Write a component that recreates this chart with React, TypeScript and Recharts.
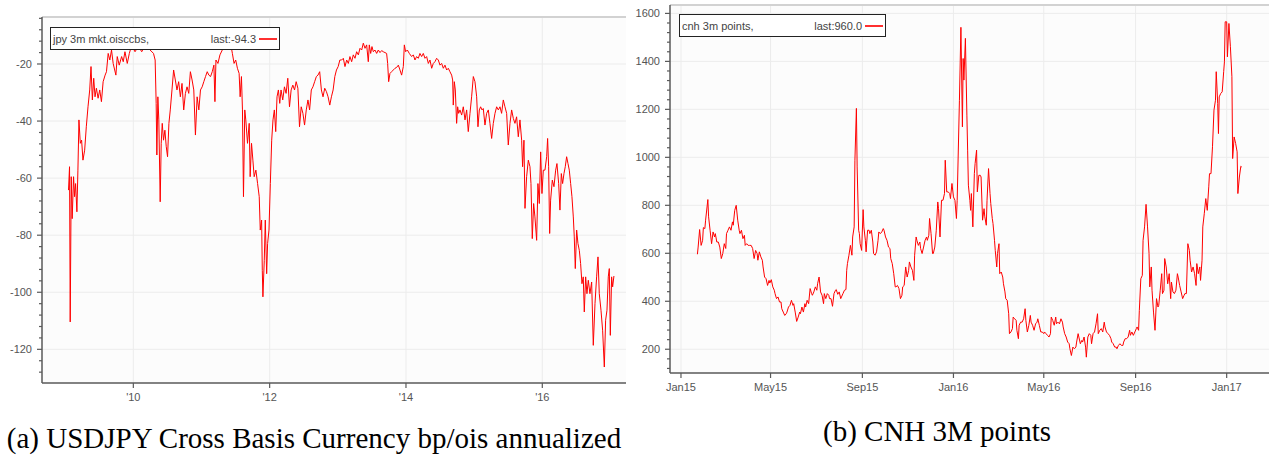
import React from 'react';
import { LineChart, Line, XAxis, YAxis, CartesianGrid, ReferenceLine } from 'recharts';

// ---------- (a) USDJPY cross basis, x = decimal year ----------
const jpyYears = [
  2009.049, 2009.064, 2009.074, 2009.089, 2009.103, 2009.123, 2009.138, 2009.153, 2009.172, 2009.187,
  2009.202, 2009.222, 2009.241, 2009.261, 2009.286, 2009.310, 2009.335, 2009.360, 2009.379, 2009.399,
  2009.419, 2009.438, 2009.458, 2009.483, 2009.507, 2009.532, 2009.557, 2009.586, 2009.606, 2009.631,
  2009.655, 2009.680, 2009.704, 2009.744, 2009.764, 2009.793, 2009.828, 2009.852, 2009.877, 2009.911,
  2009.941, 2009.975, 2010.025, 2010.074, 2010.123, 2010.172, 2010.246, 2010.296, 2010.320, 2010.335,
  2010.345, 2010.360, 2010.374, 2010.394, 2010.409, 2010.424, 2010.443, 2010.463, 2010.483, 2010.502,
  2010.522, 2010.542, 2010.567, 2010.591, 2010.616, 2010.640, 2010.665, 2010.690, 2010.714, 2010.739,
  2010.764, 2010.788, 2010.813, 2010.837, 2010.862, 2010.887, 2010.911, 2010.936, 2010.961, 2010.985,
  2011.010, 2011.034, 2011.059, 2011.084, 2011.108, 2011.133, 2011.158, 2011.182, 2011.197, 2011.212,
  2011.241, 2011.271, 2011.305, 2011.330, 2011.379, 2011.429, 2011.453, 2011.478, 2011.502, 2011.527,
  2011.552, 2011.567, 2011.586, 2011.601, 2011.616, 2011.635, 2011.650, 2011.675, 2011.700, 2011.714,
  2011.734, 2011.754, 2011.773, 2011.798, 2011.823, 2011.847, 2011.862, 2011.882, 2011.892, 2011.901,
  2011.921, 2011.936, 2011.956, 2011.970, 2011.990, 2012.010, 2012.030, 2012.049, 2012.069, 2012.089,
  2012.108, 2012.128, 2012.148, 2012.167, 2012.192, 2012.217, 2012.241, 2012.266, 2012.291, 2012.315,
  2012.340, 2012.365, 2012.389, 2012.414, 2012.438, 2012.463, 2012.488, 2012.512, 2012.537, 2012.562,
  2012.586, 2012.611, 2012.635, 2012.660, 2012.685, 2012.709, 2012.734, 2012.759, 2012.783, 2012.808,
  2012.833, 2012.857, 2012.882, 2012.906, 2012.931, 2012.956, 2012.980, 2013.005, 2013.030, 2013.056,
  2013.081, 2013.105, 2013.130, 2013.154, 2013.178, 2013.203, 2013.227, 2013.252, 2013.276, 2013.301,
  2013.325, 2013.350, 2013.374, 2013.399, 2013.423, 2013.447, 2013.462, 2013.482, 2013.501, 2013.521,
  2013.545, 2013.570, 2013.594, 2013.619, 2013.643, 2013.667, 2013.692, 2013.716, 2013.731, 2013.746,
  2013.765, 2013.790, 2013.814, 2013.839, 2013.863, 2013.888, 2013.912, 2013.936, 2013.961, 2013.976,
  2013.995, 2014.020, 2014.049, 2014.083, 2014.108, 2014.132, 2014.156, 2014.181, 2014.205, 2014.230,
  2014.254, 2014.279, 2014.303, 2014.328, 2014.352, 2014.377, 2014.401, 2014.425, 2014.450, 2014.474,
  2014.499, 2014.523, 2014.548, 2014.572, 2014.597, 2014.621, 2014.645, 2014.670, 2014.685, 2014.694,
  2014.709, 2014.724, 2014.743, 2014.758, 2014.773, 2014.792, 2014.817, 2014.841, 2014.866, 2014.890,
  2014.914, 2014.939, 2014.963, 2014.988, 2015.012, 2015.037, 2015.056, 2015.076, 2015.095, 2015.115,
  2015.134, 2015.159, 2015.183, 2015.208, 2015.232, 2015.257, 2015.281, 2015.306, 2015.330, 2015.355,
  2015.379, 2015.403, 2015.428, 2015.452, 2015.477, 2015.501, 2015.526, 2015.550, 2015.575, 2015.599,
  2015.623, 2015.648, 2015.672, 2015.697, 2015.711, 2015.731, 2015.746, 2015.770, 2015.795, 2015.819,
  2015.834, 2015.853, 2015.873, 2015.892, 2015.917, 2015.936, 2015.956, 2015.976, 2015.995, 2016.015,
  2016.039, 2016.064, 2016.078, 2016.093, 2016.108, 2016.122, 2016.147, 2016.171, 2016.196, 2016.215,
  2016.240, 2016.259, 2016.279, 2016.298, 2016.318, 2016.337, 2016.357, 2016.377, 2016.396, 2016.416,
  2016.435, 2016.455, 2016.469, 2016.484, 2016.504, 2016.523, 2016.543, 2016.562, 2016.582, 2016.601,
  2016.616, 2016.636, 2016.655, 2016.675, 2016.699, 2016.724, 2016.748, 2016.773, 2016.797, 2016.817,
  2016.836, 2016.861, 2016.885, 2016.910, 2016.929, 2016.949, 2016.968, 2016.983, 2016.998, 2017.017,
  2017.032, 2017.051,
];
const jpyValues = [
  -64.2, -56.0, -110.4, -59.5, -74.2, -59.5, -66.5, -61.9, -71.8, -57.2,
  -39.6, -47.8, -46.7, -53.7, -50.2, -42.0, -35.0, -29.1, -20.9, -32.6,
  -25.0, -31.5, -28.5, -32.0, -29.1, -33.2, -26.2, -23.9, -22.7, -16.3,
  -18.6, -15.1, -19.8, -23.9, -17.4, -20.4, -17.4, -19.2, -15.7, -19.8,
  -16.3, -13.5, -15.7, -13.8, -15.7, -13.5, -15.1, -16.3, -18.6, -33.8,
  -51.9, -31.5, -39.6, -68.3, -47.8, -40.8, -46.7, -43.2, -49.0, -52.5,
  -40.8, -36.1, -29.1, -22.1, -25.6, -29.1, -26.2, -31.5, -26.8, -36.1,
  -30.3, -28.0, -30.3, -22.7, -25.6, -29.1, -44.9, -31.5, -36.1, -29.1,
  -28.0, -26.2, -24.4, -22.7, -23.9, -24.4, -22.7, -20.4, -33.2, -18.6,
  -19.8, -16.8, -15.1, -14.2, -13.2, -13.0, -16.3, -19.8, -18.6, -21.5,
  -23.3, -31.5, -24.4, -36.1, -66.5, -36.1, -39.6, -47.8, -40.8, -59.5,
  -47.8, -53.7, -59.5, -57.2, -61.9, -66.5, -78.2, -74.7, -92.3, -101.6,
  -88.8, -74.7, -93.5, -82.9, -78.2, -61.9, -46.7, -39.6, -36.1, -43.7,
  -31.5, -29.1, -33.8, -29.1, -32.6, -28.0, -30.3, -25.0, -35.0, -29.1,
  -27.4, -29.1, -26.2, -28.5, -42.0, -35.0, -37.3, -41.4, -36.1, -32.6,
  -36.1, -29.1, -28.0, -26.2, -24.4, -23.9, -22.7, -29.1, -31.5, -28.5,
  -29.7, -31.5, -34.4, -31.5, -29.1, -24.4, -22.1, -20.9, -18.6, -18.6,
  -18.0, -20.9, -18.6, -19.8, -17.4, -19.2, -16.8, -18.0, -15.7, -16.8,
  -14.5, -15.1, -12.7, -14.5, -13.3, -19.2, -13.3, -16.3, -13.9, -15.7,
  -15.1, -16.3, -15.1, -16.0, -15.3, -15.7, -16.0, -16.3, -19.8, -26.2,
  -23.3, -22.7, -22.1, -21.5, -21.2, -20.4, -22.1, -23.9, -20.9, -13.3,
  -15.7, -15.1, -16.3, -17.4, -16.8, -18.6, -17.4, -18.0, -16.3, -17.4,
  -16.3, -18.0, -17.4, -19.8, -18.6, -21.5, -19.8, -19.2, -18.0, -18.6,
  -20.4, -19.8, -21.5, -20.4, -22.1, -21.5, -22.7, -23.9, -25.6, -34.4,
  -26.2, -29.1, -40.8, -35.0, -37.3, -36.1, -37.9, -35.0, -39.6, -36.1,
  -43.7, -37.3, -31.5, -24.4, -26.2, -31.5, -42.0, -36.1, -35.0, -36.1,
  -35.6, -41.4, -37.3, -36.1, -40.8, -46.1, -40.8, -37.3, -35.0, -36.1,
  -35.0, -37.3, -32.6, -35.0, -37.3, -48.4, -40.8, -36.1, -39.1, -40.8,
  -38.5, -45.5, -39.6, -46.7, -56.0, -46.7, -70.6, -59.5, -53.7, -56.0,
  -61.9, -81.2, -68.9, -73.6, -81.8, -61.9, -68.9, -50.8, -65.4, -57.2,
  -57.2, -52.5, -46.1, -56.0, -79.4, -67.7, -60.7, -63.0, -57.2, -54.9,
  -61.9, -71.2, -58.4, -61.9, -58.4, -56.0, -52.5, -54.9, -57.2, -61.9,
  -66.5, -73.6, -80.6, -91.7, -78.2, -82.9, -85.3, -89.9, -97.0, -94.6,
  -106.9, -94.6, -100.5, -95.8, -100.5, -96.4, -118.6, -104.0, -94.6, -87.6,
  -100.5, -106.3, -113.3, -126.2, -109.8, -106.3, -94.6, -91.7, -115.1, -94.6,
  -98.1, -94.3,
];
const jpyXTicks = [2010, 2012, 2014, 2016];
const jpyXTickLabels = ["'10", "'12", "'14", "'16"];
const jpyYMajor = [-120, -100, -80, -60, -40, -20];

// ---------- (b) CNH 3M points, x = days since 1 Jan 2015 ----------
const cnhDays = [
  22, 23, 25, 27, 29, 30, 32, 33, 36, 37, 39, 41, 43, 45, 46, 48, 50, 52, 54, 56,
  58, 60, 61, 63, 65, 67, 69, 70, 72, 74, 76, 78, 79, 81, 83, 85, 86, 88, 90, 92,
  94, 96, 98, 100, 102, 103, 105, 107, 109, 110, 112, 114, 116, 118, 119, 121, 123, 125, 126, 128,
  130, 132, 134, 135, 137, 139, 141, 142, 144, 146, 148, 150, 151, 153, 155, 157, 159, 160, 162, 164,
  166, 167, 169, 171, 173, 175, 176, 178, 180, 182, 183, 185, 187, 189, 191, 192, 194, 196, 198, 199,
  201, 203, 205, 207, 208, 210, 212, 214, 215, 217, 219, 221, 222, 223, 225, 227, 229, 230, 232, 233,
  235, 236, 238, 239, 240, 242, 244, 245, 247, 248, 250, 252, 253, 255, 257, 258, 260, 262, 264, 265,
  267, 269, 271, 272, 274, 276, 278, 280, 281, 283, 285, 287, 288, 290, 292, 294, 296, 297, 299, 301,
  303, 305, 306, 308, 310, 312, 313, 315, 316, 318, 320, 321, 323, 325, 327, 329, 330, 332, 333, 335,
  337, 338, 340, 342, 344, 345, 347, 349, 351, 353, 354, 356, 358, 360, 361, 363, 365, 367, 369, 370,
  373, 375, 377, 378, 379, 381, 383, 384, 385, 387, 388, 389, 391, 393, 394, 396, 397, 399, 401, 402,
  404, 406, 407, 409, 410, 412, 414, 415, 417, 418, 420, 421, 423, 424, 426, 427, 429, 431, 432, 434,
  435, 437, 439, 440, 442, 444, 445, 447, 449, 450, 452, 453, 455, 457, 459, 461, 462, 464, 466, 468,
  469, 471, 473, 475, 477, 478, 480, 482, 484, 486, 487, 489, 491, 493, 495, 496, 498, 500, 502, 503,
  505, 507, 509, 511, 512, 514, 516, 518, 520, 521, 523, 525, 527, 529, 530, 532, 533, 535, 537, 538,
  540, 542, 543, 545, 547, 549, 550, 552, 554, 556, 558, 559, 561, 563, 565, 567, 568, 570, 572, 574,
  576, 577, 579, 581, 583, 584, 586, 588, 590, 592, 593, 595, 597, 599, 601, 602, 604, 606, 608, 610,
  611, 613, 614, 616, 618, 619, 621, 623, 625, 627, 628, 630, 631, 633, 635, 637, 639, 640, 642, 644,
  645, 647, 648, 650, 652, 654, 656, 657, 659, 661, 663, 665, 666, 668, 670, 672, 674, 675, 677, 679,
  681, 682, 684, 686, 688, 690, 691, 693, 695, 696, 698, 699, 701, 703, 705, 707, 708, 710, 712, 714,
  716, 717, 719, 720, 721, 723, 725, 727, 728, 729, 731, 732, 734, 736, 738, 739, 741, 743, 745, 746,
  748, 750, 751,
];
const cnhValues = [
  596, 626, 699, 633, 654, 707, 703, 738, 824, 752, 696, 640, 689, 668, 682, 647, 647, 626, 578, 599,
  640, 620, 682, 696, 710, 696, 731, 717, 779, 800, 738, 696, 682, 696, 661, 675, 633, 640, 633, 633,
  633, 620, 578, 612, 599, 571, 606, 585, 571, 543, 501, 494, 466, 487, 476, 490, 460, 446, 432, 411,
  418, 397, 397, 369, 355, 341, 348, 355, 376, 383, 404, 383, 390, 355, 316, 334, 355, 348, 376, 355,
  390, 376, 404, 390, 453, 432, 425, 439, 460, 446, 473, 501, 439, 425, 390, 432, 411, 432, 425, 411,
  411, 379, 432, 446, 449, 429, 439, 411, 418, 432, 446, 449, 529, 557, 592, 633, 592, 668, 710, 988,
  1204, 960, 696, 682, 640, 612, 782, 710, 654, 606, 696, 696, 682, 696, 647, 599, 592, 606, 654, 689,
  682, 689, 703, 696, 668, 654, 626, 620, 578, 557, 515, 460, 460, 466, 453, 411, 425, 460, 466, 543,
  501, 529, 564, 543, 529, 487, 592, 668, 654, 633, 647, 620, 599, 626, 654, 668, 654, 675, 745, 682,
  599, 599, 626, 696, 814, 786, 668, 821, 821, 849, 988, 856, 856, 849, 828, 891, 835, 821, 745, 821,
  1238, 1542, 1127, 1412, 1322, 1496, 1176, 1030, 884, 821, 779, 849, 710, 932, 974, 1030, 856, 925, 925, 918,
  738, 786, 752, 717, 821, 953, 849, 807, 745, 724, 654, 612, 543, 599, 640, 515, 522, 501, 473, 439,
  411, 404, 348, 265, 272, 286, 334, 327, 320, 279, 244, 300, 313, 313, 327, 369, 320, 272, 300, 341,
  313, 300, 279, 306, 313, 327, 300, 272, 272, 265, 272, 265, 258, 251, 265, 334, 320, 300, 334, 306,
  313, 306, 327, 313, 293, 265, 251, 230, 223, 202, 174, 209, 202, 209, 230, 265, 251, 223, 237, 230,
  251, 209, 167, 251, 265, 258, 223, 265, 272, 306, 348, 265, 279, 286, 272, 313, 293, 272, 265, 258,
  244, 230, 223, 209, 209, 202, 216, 223, 216, 216, 230, 244, 244, 251, 279, 258, 272, 258, 272, 286,
  293, 279, 362, 494, 508, 654, 710, 804, 710, 599, 460, 543, 446, 355, 279, 411, 376, 383, 446, 515,
  432, 446, 578, 543, 473, 515, 411, 480, 439, 432, 446, 515, 501, 466, 439, 411, 425, 432, 432, 640,
  612, 571, 522, 543, 515, 466, 557, 515, 543, 487, 571, 710, 765, 828, 779, 877, 932, 932, 1044, 1197,
  1238, 1357, 1224, 1099, 1252, 1266, 1273, 1357, 1398, 1565, 1565, 1419, 1558, 1461, 1336, 995, 1085, 1058, 1023, 849,
  918, 963, 960,
];
const cnhXTicks = [0, 120, 243, 365, 486, 609, 731];
const cnhXTickLabels = ['Jan15', 'May15', 'Sep15', 'Jan16', 'May16', 'Sep16', 'Jan17'];
const cnhYMajor = [200, 400, 600, 800, 1000, 1200, 1400, 1600];

const jpyMinor: number[] = [];
for (let v = -128; v <= -4; v += 4) jpyMinor.push(v);
const cnhMinor: number[] = [];
for (let v = 120; v <= 1600; v += 40) cnhMinor.push(v);

const jpyData = jpyYears.map((x, i) => ({ x, v: jpyValues[i] }));
const cnhData = cnhDays.map((x, i) => ({ x, v: cnhValues[i] }));

const SANS = '"Liberation Sans", Arial, Helvetica, sans-serif';
const SERIF = '"Liberation Serif", "Times New Roman", Times, serif';
const AXIS = '#5a5a5a';
const TICKTXT = '#555';

const makeYTick = (majors: number[]) => (props: any) => {
  const { x, y, payload } = props;
  const major = majors.includes(payload.value);
  return (
    <g>
      <line x1={x - (major ? 5 : 3)} x2={x} y1={y} y2={y} stroke={AXIS} strokeWidth={1.2} />
      {major && (
        <text x={x - 10} y={y} dy="0.36em" textAnchor="end" fontSize={11} fill={TICKTXT} fontFamily={SANS}>
          {payload.value}
        </text>
      )}
    </g>
  );
};

const makeXTick = (vals: number[], labels: string[]) => (props: any) => {
  const { x, y, payload } = props;
  const i = vals.indexOf(payload.value);
  return (
    <g>
      <line x1={x} x2={x} y1={y} y2={y + 5} stroke={AXIS} strokeWidth={1.2} />
      <text x={x} y={y + 18} textAnchor="middle" fontSize={11} fill={TICKTXT} fontFamily={SANS}>
        {labels[i]}
      </text>
    </g>
  );
};

function LegendBox(p: { left: number; top: number; width: number; name: string; last: string }) {
  return (
    <div
      style={{
        position: 'absolute', left: p.left, top: p.top, width: p.width, height: 23, boxSizing: 'border-box',
        border: '1px solid #222', background: '#fff', display: 'flex', alignItems: 'center',
        fontFamily: SANS, fontSize: 11, color: '#444', paddingLeft: 2, whiteSpace: 'nowrap',
      }}
    >
      <span>{p.name}</span>
      <span style={{ marginLeft: 'auto' }}>{p.last}</span>
      <span style={{ display: 'block', width: 18, height: 2, background: '#ff3030', marginLeft: 3, marginRight: 2 }} />
    </div>
  );
}

export default function App() {
  const jpyLast = jpyValues[jpyValues.length - 1].toFixed(1);
  const cnhLast = cnhValues[cnhValues.length - 1].toFixed(1);
  return (
    <div style={{ position: 'absolute', left: 0, top: 0, width: 1269, height: 457, background: '#fff', overflow: 'hidden' }}>
      <div style={{ position: 'absolute', left: 0, top: 0 }}>
        <LineChart width={640} height={420} data={jpyData} margin={{ top: 17, right: 14, left: 0, bottom: 0 }}>
          <CartesianGrid stroke="#ececec" fill="#fcfcfc" horizontalValues={jpyYMajor} verticalValues={jpyXTicks} />
          <XAxis
            type="number" dataKey="x" domain={[2008.66, 2017.228]} allowDataOverflow ticks={jpyXTicks} interval={0}
            height={37} tickSize={0} tickMargin={0} tickLine={false} tick={makeXTick(jpyXTicks, jpyXTickLabels)}
            axisLine={{ stroke: AXIS, strokeWidth: 1.5 }}
          />
          <YAxis
            type="number" domain={[-131.8, -3.53]} allowDataOverflow ticks={jpyMinor} interval={0}
            width={42} tickSize={0} tickMargin={0} tickLine={false} tick={makeYTick(jpyYMajor)}
            axisLine={{ stroke: AXIS, strokeWidth: 1.5 }}
          />
          <ReferenceLine y={-3.53} stroke="#d2d2d2" strokeWidth={2} />
          <Line type="linear" dataKey="v" stroke="#ff0000" strokeWidth={1} dot={false} isAnimationActive={false} />
        </LineChart>
      </div>
      <div style={{ position: 'absolute', left: 620, top: 0 }}>
        <LineChart width={649} height={420} data={cnhData} margin={{ top: 5, right: 0, left: 0, bottom: 0 }}>
          <CartesianGrid stroke="#ececec" fill="#fcfcfc" horizontalValues={cnhYMajor} verticalValues={cnhXTicks} />
          <XAxis
            type="number" dataKey="x" domain={[-14.7, 787.7]} allowDataOverflow ticks={cnhXTicks} interval={0}
            height={47} tickSize={0} tickMargin={0} tickLine={false} tick={makeXTick(cnhXTicks, cnhXTickLabels)}
            axisLine={{ stroke: AXIS, strokeWidth: 1.5 }}
          />
          <YAxis
            type="number" domain={[101, 1635]} allowDataOverflow ticks={cnhMinor} interval={0}
            width={50} tickSize={0} tickMargin={0} tickLine={false} tick={makeYTick(cnhYMajor)}
            axisLine={{ stroke: AXIS, strokeWidth: 1.5 }}
          />
          <ReferenceLine y={1635} stroke="#d2d2d2" strokeWidth={2} />
          <Line type="linear" dataKey="v" stroke="#ff0000" strokeWidth={1} dot={false} isAnimationActive={false} />
        </LineChart>
      </div>
      <LegendBox left={50} top={27} width={230} name="jpy 3m mkt.oisccbs," last={`last:${jpyLast}`} />
      <LegendBox left={679} top={14} width={207} name="cnh 3m points," last={`last:${cnhLast}`} />
      <div style={{ position: 'absolute', left: 0, top: 424, width: 628, textAlign: 'center', fontFamily: SERIF, fontSize: 29, lineHeight: '29px', color: '#000', whiteSpace: 'nowrap' }}>
        (a) USDJPY Cross Basis Currency bp/ois annualized
      </div>
      <div style={{ position: 'absolute', left: 637, top: 417, width: 600, textAlign: 'center', fontFamily: SERIF, fontSize: 29, lineHeight: '29px', color: '#000', whiteSpace: 'nowrap' }}>
        (b) CNH 3M points
      </div>
    </div>
  );
}
